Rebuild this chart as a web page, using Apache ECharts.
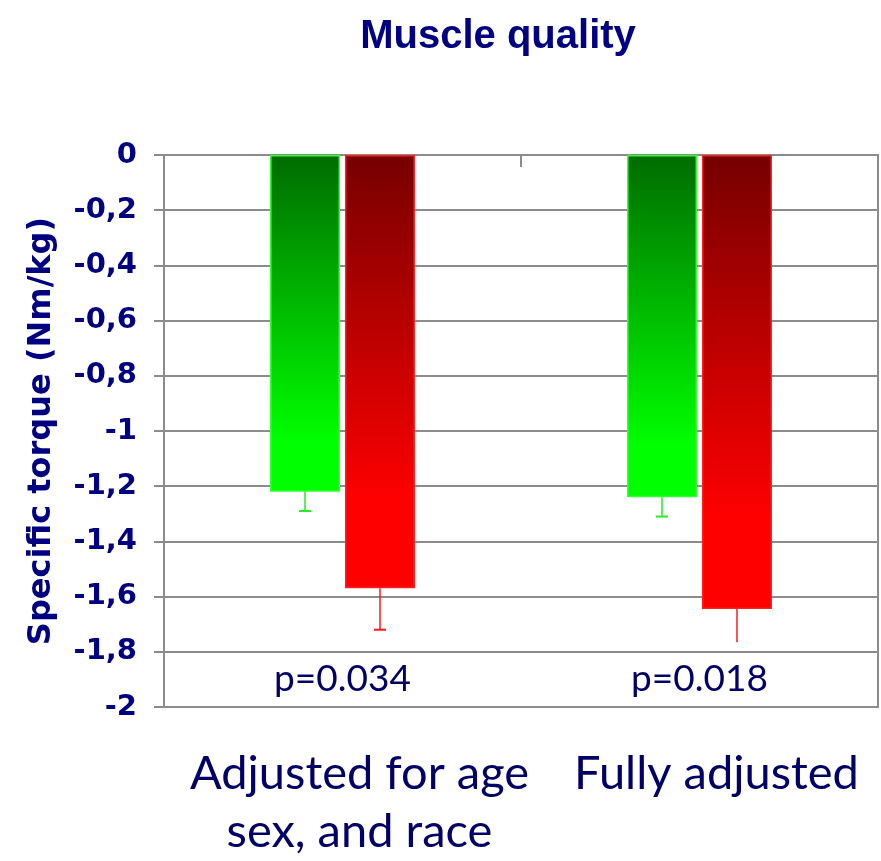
<!DOCTYPE html>
<html>
<head>
<meta charset="utf-8">
<script src="https://cdn.jsdelivr.net/npm/echarts@6/dist/echarts.min.js"></script>
<style>
  html, body { margin: 0; padding: 0; background: #fff; }
  #chart { width: 881px; height: 861px; }
</style>
</head>
<body>
<div id="chart"></div>
<script>
// categories and values
const categories = ['Adjusted for age\nsex, and race', 'Fully adjusted']
const greenValues = [-1.22, -1.24]
const redValues = [-1.57, -1.645]
const greenErrLow = [-1.29, -1.31]
const redErrLow = [-1.72, -1.765]
const pValues = ['p=0.034', 'p=0.018']
const pLevel = -1.9
const yTicks = [0, -0.2, -0.4, -0.6, -0.8, -1, -1.2, -1.4, -1.6, -1.8, -2]

const navy = '#000080'
const textBlue = '#000066'
const gridGrey = '#8c8c8c'

const chart = echarts.init(document.getElementById('chart'))

// error bars drawn below each bar, offset to its slot in the group
function errorBar(lows, values, offset, color, caps) {
    return {
        type: 'custom',
        z: 5,
        data: values.map((v, i) => [i, v, lows[i]]),
        renderItem(params, api) {
            const top = api.coord([api.value(0), api.value(1)])
            const bot = api.coord([api.value(0), api.value(2)])
            const x = top[0] + offset
            const children = [{
                type: 'line',
                shape: { x1: x, y1: top[1], x2: x, y2: bot[1] },
                style: { stroke: color, lineWidth: 1.5 }
            }]
            if (caps[params.dataIndex]) {
                children.push({
                    type: 'line',
                    shape: { x1: x - 6, y1: bot[1], x2: x + 6, y2: bot[1] },
                    style: { stroke: color, lineWidth: 2 }
                })
            }
            return { type: 'group', children }
        }
    }
}

chart.setOption({
    animation: false,
    title: {
        text: 'Muscle quality',
        left: 493,
        textAlign: 'center',
        top: 12,
        textStyle: {
            fontFamily: 'Liberation Sans',
            fontWeight: 'bold',
            fontSize: 40,
            color: navy
        }
    },
    grid: {
        left: 164,
        right: 3,
        top: 155,
        bottom: 153,
        show: true,
        borderColor: gridGrey,
        borderWidth: 2
    },
    xAxis: [{
        type: 'category',
        data: categories,
        position: 'bottom',
        axisLine: { onZero: false, lineStyle: { color: gridGrey, width: 2 } },
        axisTick: { show: false },
        axisLabel: {
            interval: 0,
            hideOverlap: false,
            margin: 38,
            fontFamily: 'Lato',
            fontSize: 47,
            lineHeight: 58,
            color: textBlue,
            padding: [0, 0, 0, 34]
        }
    }, {
        type: 'category',
        data: categories,
        position: 'top',
        axisLine: { onZero: false, lineStyle: { color: gridGrey, width: 2 } },
        axisTick: { show: true, inside: true, length: 12, lineStyle: { color: gridGrey, width: 2 } },
        axisLabel: { show: false }
    }],
    yAxis: {
        type: 'value',
        min: -2,
        max: 0,
        interval: 0.2,
        name: 'Specific torque (Nm/kg)',
        nameLocation: 'middle',
        nameGap: 106,
        nameTextStyle: {
            fontFamily: 'DejaVu Sans',
            fontWeight: 'bold',
            fontSize: 32,
            color: navy
        },
        axisLine: { show: true, lineStyle: { color: gridGrey, width: 2 } },
        axisTick: { show: true, length: 10, lineStyle: { color: gridGrey, width: 2 } },
        splitLine: { lineStyle: { color: gridGrey, width: 2 } },
        axisLabel: {
            margin: 27,
            fontFamily: 'DejaVu Sans',
            fontWeight: 'bold',
            fontSize: 29,
            color: navy,
            formatter: v => {
                const t = yTicks.find(k => Math.abs(k - v) < 1e-6)
                return String(t === undefined ? v : t).replace('.', ',')
            }
        }
    },
    series: [{
        type: 'bar',
        data: greenValues,
        barWidth: 70,
        barGap: '7%',
        itemStyle: {
            color: new echarts.graphic.LinearGradient(0, 0, 0, 1, [
                { offset: 0, color: '#006c00' },
                { offset: 0.85, color: '#00ff00' },
                { offset: 1, color: '#00ff00' }
            ]),
            borderColor: '#33ff33',
            borderWidth: 1.5
        }
    }, {
        type: 'bar',
        data: redValues,
        barWidth: 70,
        itemStyle: {
            color: new echarts.graphic.LinearGradient(0, 0, 0, 1, [
                { offset: 0, color: '#760000' },
                { offset: 0.8, color: '#ff0000' },
                { offset: 1, color: '#ff0000' }
            ]),
            borderColor: '#ff2020',
            borderWidth: 1.5
        }
    },
    errorBar(greenErrLow, greenValues, -37.5, '#22ee22', [true, true]),
    errorBar(redErrLow, redValues, 37.5, '#ff1a1a', [true, false]),
    {
        type: 'scatter',
        symbolSize: 0,
        z: 6,
        itemStyle: { opacity: 1 },
        data: pValues.map((p, i) => [i, pLevel]),
        label: {
            show: true,
            position: 'inside',
            formatter: params => pValues[params.dataIndex],
            fontFamily: 'Lato',
            fontSize: 37,
            color: textBlue,
            backgroundColor: '#fff',
            padding: [0, 8]
        }
    }]
})
</script>
</body>
</html>
